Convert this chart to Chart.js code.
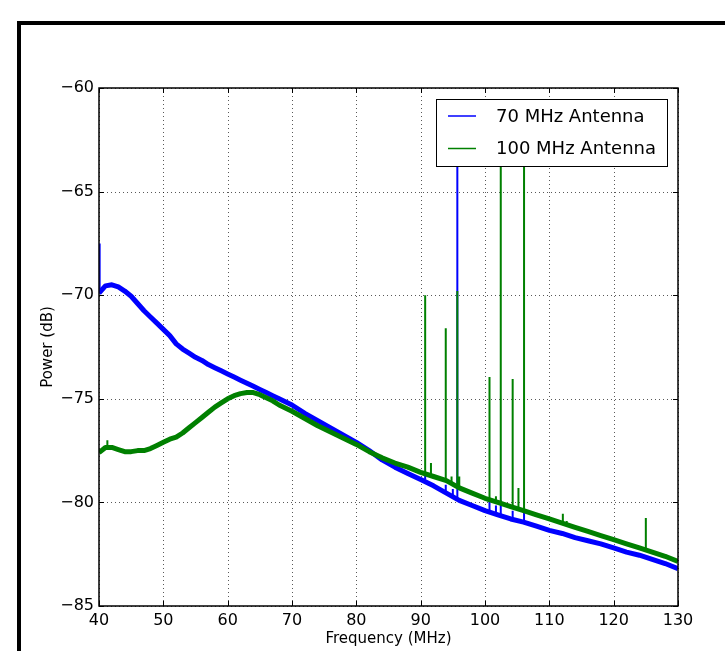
<!DOCTYPE html>
<html><head><meta charset="utf-8">
<script src="https://cdn.jsdelivr.net/npm/chart.js@4/dist/chart.umd.min.js"></script>
<style>html,body{margin:0;padding:0;background:#fff;overflow:hidden}</style>
</head><body>
<canvas id="c" width="725" height="651"></canvas>
<script>
// ---- data ----
const freqMHz = [40,41,42,43,44,45,46,47,48,49,50,51,52,53,54,55,56,57,58,59,60,61,62,63,64,65,66,67,68,70,72,74,76,78,80,82,84,86,88,90,92,94,96,98,100,102,104,106,108,110,112,114,116,118,120,122,124,126,128,130];
const power70 = [-69.9,-69.55,-69.5,-69.6,-69.8,-70.05,-70.4,-70.75,-71.05,-71.35,-71.65,-71.95,-72.35,-72.6,-72.8,-73.0,-73.15,-73.35,-73.5,-73.65,-73.8,-73.95,-74.1,-74.25,-74.4,-74.55,-74.7,-74.85,-75.0,-75.3,-75.7,-76.05,-76.4,-76.75,-77.1,-77.5,-77.95,-78.3,-78.6,-78.9,-79.2,-79.55,-79.9,-80.15,-80.4,-80.6,-80.8,-80.95,-81.15,-81.35,-81.5,-81.7,-81.85,-82.0,-82.2,-82.4,-82.55,-82.75,-82.95,-83.2];
const power100 = [-77.6,-77.35,-77.35,-77.45,-77.55,-77.55,-77.5,-77.5,-77.4,-77.25,-77.1,-76.95,-76.85,-76.65,-76.4,-76.15,-75.9,-75.65,-75.4,-75.2,-75.0,-74.85,-74.75,-74.7,-74.7,-74.8,-74.95,-75.1,-75.3,-75.6,-75.95,-76.3,-76.6,-76.9,-77.2,-77.55,-77.85,-78.1,-78.3,-78.55,-78.75,-78.95,-79.3,-79.55,-79.8,-80.0,-80.2,-80.4,-80.6,-80.8,-81.0,-81.2,-81.4,-81.6,-81.8,-82.0,-82.2,-82.4,-82.6,-82.85];

const spike70Freq = [40.1,90.7,93.9,95.0,95.7,100.7,101.7,102.45,104.3,106.07];
const spike70Base = [-69.9,-78.9,-79.5,-79.7,-79.85,-80.4,-80.55,-80.65,-80.85,-81.0];
const spike70Top  = [-67.5,-78.6,-79.15,-79.35,-62.0,-79.95,-80.15,-79.9,-80.4,-80.45];

const spike100Freq = [41.3,90.7,91.6,93.9,94.8,95.7,96.0,100.7,101.7,102.45,104.3,105.2,106.07,112.1,112.7,125.0];
const spike100Base = [-77.35,-78.6,-78.7,-78.95,-79.1,-79.2,-79.3,-79.85,-79.9,-79.95,-80.2,-80.3,-80.4,-81.0,-81.05,-82.25];
const spike100Top  = [-77.0,-70.0,-78.1,-71.6,-78.75,-69.8,-78.75,-73.95,-79.7,-62.0,-74.05,-79.3,-62.0,-80.55,-80.9,-80.75];

const xTicks = [40,50,60,70,80,90,100,110,120,130];
const yTicks = [-85,-80,-75,-70,-65,-60];
const seriesNames = ['70 MHz Antenna','100 MHz Antenna'];
const seriesColors = ['#0000ff','#008000'];

// ---- helpers ----
const curve = (xs, ys) => xs.map((x,i)=>({x:x, y:ys[i]}));
const spikes = (fs, b, t) => fs.flatMap((f,i)=>[{x:f,y:b[i]},{x:f,y:t[i]},{x:f,y:null}]);
const FONT = 'DejaVu Sans';

const framePlugin = {
  id:'frame',
  beforeDraw(chart){
    const ctx = chart.ctx;
    ctx.save();
    ctx.fillStyle = '#fff';
    ctx.fillRect(0,0,chart.width,chart.height);
    ctx.fillStyle = '#000';
    ctx.fillRect(17,21,chart.width-17,4);
    ctx.fillRect(17,21,4,chart.height-21);
    ctx.restore();
  },
  beforeDatasetsDraw(chart){
    const ctx = chart.ctx, a = chart.chartArea;
    const xs = chart.scales.x, ys = chart.scales.y;
    ctx.save();
    ctx.strokeStyle = 'rgba(0,0,0,0.65)';
    ctx.lineWidth = 1;
    ctx.setLineDash([1,3]);
    xTicks.forEach(v=>{
      const px = Math.round(xs.getPixelForValue(v))+0.5;
      ctx.beginPath(); ctx.moveTo(px,a.top); ctx.lineTo(px,a.bottom); ctx.stroke();
    });
    yTicks.forEach(v=>{
      const py = Math.round(ys.getPixelForValue(v))+0.5;
      ctx.beginPath(); ctx.moveTo(a.left,py); ctx.lineTo(a.right,py); ctx.stroke();
    });
    ctx.restore();
  },
  afterDatasetsDraw(chart){
    const ctx = chart.ctx, a = chart.chartArea;
    const xs = chart.scales.x, ys = chart.scales.y;
    ctx.save();
    ctx.strokeStyle = '#000';
    ctx.lineWidth = 1.5;
    ctx.setLineDash([]);
    ctx.strokeRect(a.left, a.top, a.right-a.left, a.bottom-a.top);
    ctx.lineWidth = 1;
    xTicks.forEach(v=>{
      const px = Math.round(xs.getPixelForValue(v))+0.5;
      ctx.beginPath(); ctx.moveTo(px,a.bottom); ctx.lineTo(px,a.bottom-5);
      ctx.moveTo(px,a.top); ctx.lineTo(px,a.top+5); ctx.stroke();
    });
    yTicks.forEach(v=>{
      const py = Math.round(ys.getPixelForValue(v))+0.5;
      ctx.beginPath(); ctx.moveTo(a.left,py); ctx.lineTo(a.left+5,py);
      ctx.moveTo(a.right,py); ctx.lineTo(a.right-5,py); ctx.stroke();
    });
    // legend box inside axes (upper right)
    const bw = 231, bh = 67;
    const bx = a.right - 11 - bw, by = a.top + 11;
    ctx.fillStyle = '#fff';
    ctx.fillRect(bx, by, bw, bh);
    ctx.strokeStyle = '#000';
    ctx.lineWidth = 1;
    ctx.strokeRect(bx+0.5, by+0.5, bw, bh);
    ctx.font = '18px "' + FONT + '"';
    ctx.textBaseline = 'middle';
    ctx.textAlign = 'left';
    seriesNames.forEach((n,i)=>{
      const ly = by + 17 + i*32.5;
      ctx.strokeStyle = seriesColors[i];
      ctx.lineWidth = 1.5;
      ctx.beginPath(); ctx.moveTo(bx+12, ly); ctx.lineTo(bx+40, ly); ctx.stroke();
      ctx.fillStyle = '#000';
      ctx.fillText(n, bx+60, ly+1);
    });
    ctx.restore();
  }
};

new Chart(document.getElementById('c'), {
  type:'line',
  data:{
    datasets:[
      {label:seriesNames[0]+' spikes', data:spikes(spike70Freq,spike70Base,spike70Top), borderColor:seriesColors[0], borderWidth:2, pointRadius:0, spanGaps:false, order:4},
      {label:seriesNames[0], data:curve(freqMHz,power70), borderColor:seriesColors[0], borderWidth:5, pointRadius:0, borderJoinStyle:'round', order:3},
      {label:seriesNames[1], data:curve(freqMHz,power100), borderColor:seriesColors[1], borderWidth:5, pointRadius:0, borderJoinStyle:'round', order:2},
      {label:seriesNames[1]+' spikes', data:spikes(spike100Freq,spike100Base,spike100Top), borderColor:seriesColors[1], borderWidth:2, pointRadius:0, spanGaps:false, order:1}
    ]
  },
  options:{
    responsive:false,
    devicePixelRatio:1,
    animation:false,
    layout:{padding:{left:35, top:88, right:47, bottom:0}},
    plugins:{legend:{display:false}, tooltip:{enabled:false}},
    elements:{line:{tension:0}},
    scales:{
      x:{
        type:'linear', min:40, max:130,
        afterBuildTicks(s){ s.ticks = xTicks.map(v=>({value:v})); },
        ticks:{color:'#000', font:{family:FONT, size:16}, padding:5, maxRotation:0},
        grid:{display:false, drawTicks:false},
        border:{display:false},
        title:{display:true, text:'Frequency (MHz)', color:'#000', font:{family:FONT, size:15}, padding:{top:0,bottom:3}},
        afterFit(s){ s.height = 45; }
      },
      y:{
        type:'linear', min:-85, max:-60,
        afterBuildTicks(s){ s.ticks = yTicks.map(v=>({value:v})); },
        ticks:{color:'#000', font:{family:FONT, size:16}, padding:5, callback:v=>String(v).replace('-','\u2212')},
        grid:{display:false, drawTicks:false},
        border:{display:false},
        title:{display:true, text:'Power (dB)', color:'#000', font:{family:FONT, size:15}, padding:{top:4,bottom:0}},
        afterFit(s){ s.width = 64; }
      }
    }
  },
  plugins:[framePlugin]
});
</script>
</body></html>
